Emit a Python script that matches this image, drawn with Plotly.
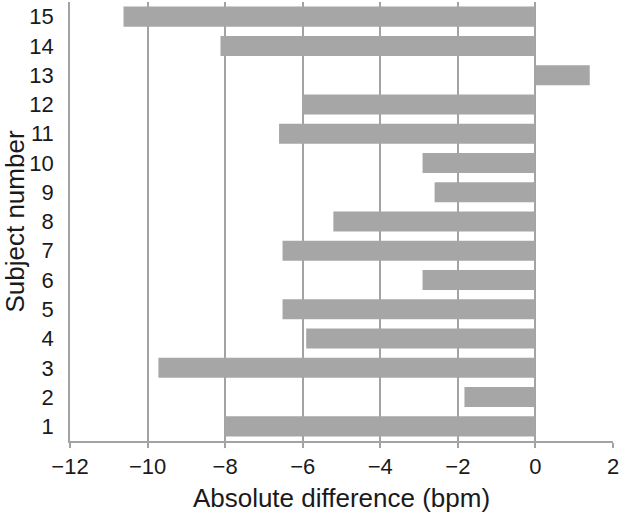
import plotly.graph_objects as go

subjects = list(range(1, 16))
differences = [-8.01, -1.83, -9.72, -5.91, -6.52, -2.91, -6.52, -5.21, -2.60, -2.91, -6.61, -6.01, 1.40, -8.12, -10.62]
x_ticks = [-12, -10, -8, -6, -4, -2, 0, 2]

grey = "#A6A6A6"
line_grey = "#A3A3A3"
font_family = "Liberation Sans, Arial, sans-serif"

fig = go.Figure(go.Bar(
    x=differences, y=subjects, orientation="h",
    marker=dict(color=grey, line=dict(width=0)),
))

fig.update_layout(
    width=620, height=513,
    margin=dict(l=70, r=7, t=2, b=72, pad=0),
    plot_bgcolor="white", paper_bgcolor="white",
    bargap=0.315,
    showlegend=False,
    font=dict(family=font_family, size=22, color="#1a1a1a"),
    xaxis=dict(
        range=[-12, 2], tickvals=x_ticks,
        showgrid=True, gridcolor=line_grey, gridwidth=1.7,
        showline=True, linecolor=line_grey, linewidth=1.7,
        ticks="outside", ticklen=5, tickcolor=line_grey, tickwidth=1.7,
        zeroline=False, automargin=False,
        title=dict(text="Absolute difference (bpm)", standoff=18),
        tickfont=dict(size=22),
    ),
    yaxis=dict(
        range=[0.5, 15.5], tickmode="linear", dtick=1,
        showgrid=False, zeroline=False,
        showline=True, linecolor=line_grey, linewidth=1.7,
        ticks="", ticklabelstandoff=10, automargin=False,
        title=dict(text="Subject number", standoff=6),
        tickfont=dict(size=22),
    ),
)

fig.write_html("out.html", config={"displayModeBar": False},
               post_script="document.body.style.margin='0';")
